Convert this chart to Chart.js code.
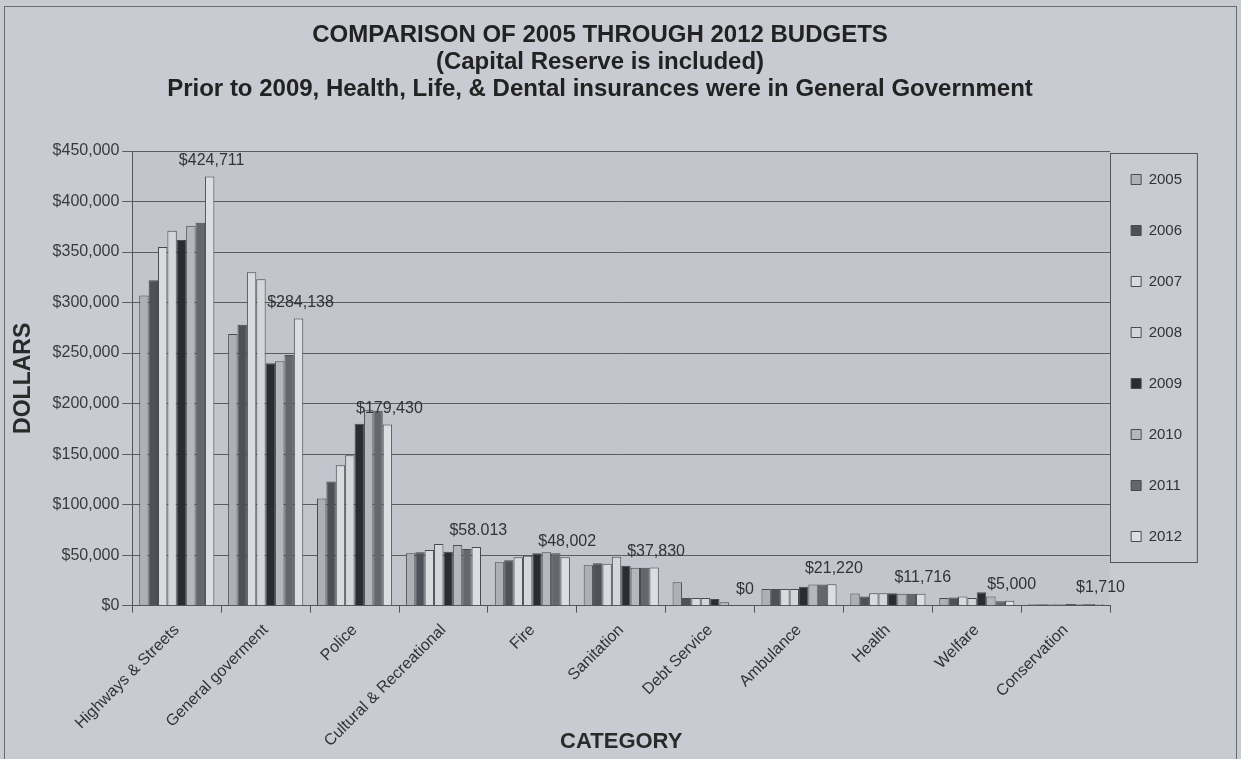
<!DOCTYPE html>
<html>
<head>
<meta charset="utf-8">
<title>Comparison of 2005 through 2012 budgets</title>
<script src="https://cdn.jsdelivr.net/npm/chart.js@4.4.1/dist/chart.umd.min.js"></script>
<style>
  html, body { margin: 0; padding: 0; background: #c8cbd2; }
  #wrap { width: 1241px; height: 759px; position: relative; }
</style>
</head>
<body>
<div id="wrap"><canvas id="budgetChart"></canvas></div>
<script>
const categories = [
  "Highways & Streets", "General goverment", "Police", "Cultural & Recreational",
  "Fire", "Sanitation", "Debt Service", "Ambulance", "Health", "Welfare", "Conservation"
];
const years = ["2005", "2006", "2007", "2008", "2009", "2010", "2011", "2012"];

const y2005 = [307000, 269000, 106000, 52000, 43000, 40000, 23100, 16500, 12000, 7600, 1500];
const y2006 = [322000, 278000, 123000, 53000, 45000, 42000, 7600, 16500, 9000, 8200, 1500];
const y2007 = [355000, 330000, 139000, 55000, 48000, 41500, 7600, 16500, 12300, 9200, 1500];
const y2008 = [371000, 323000, 149000, 61000, 49500, 48500, 7600, 16500, 12300, 7600, 1500];
const y2009 = [362000, 240000, 180000, 53500, 52000, 39500, 6600, 18800, 12300, 13200, 1600];
const y2010 = [376000, 242000, 194000, 60000, 53000, 37500, 3300, 21000, 11800, 9200, 1700];
const y2011 = [379000, 248000, 193000, 56000, 52000, 37500, 0, 21000, 11800, 4500, 1700];
const y2012 = [424711, 284138, 179430, 58013, 48002, 37830, 0, 21220, 11716, 5000, 1710];

// labels printed above the 2012 bars, as written on the original
const labels2012 = ["$424,711", "$284,138", "$179,430", "$58.013", "$48,002", "$37,830",
  "$0", "$21,220", "$11,716", "$5,000", "$1,710"];

const seriesValues = [y2005, y2006, y2007, y2008, y2009, y2010, y2011, y2012];
const fills = ["#aeb0b6", "#505158", "#d9dbdf", "#d4d6da", "#2b2c33", "#b5b7bc", "#66676d", "#dcdee2"];

Chart.defaults.font.family = "'Liberation Sans', Arial, sans-serif";
Chart.defaults.color = "#333";

const backdrop = {
  id: "backdrop",
  beforeDraw(chart) {
    const { ctx, chartArea: a } = chart;
    ctx.save();
    ctx.fillStyle = "#c8cbd2";
    ctx.fillRect(0, 0, chart.width, chart.height);
    ctx.fillStyle = "#c2c5cc";
    ctx.fillRect(a.left, a.top, a.right - a.left, a.bottom - a.top);
    ctx.strokeStyle = "#6a6c70";
    ctx.lineWidth = 1;
    ctx.strokeRect(4.5, 6.5, chart.width - 9, chart.height);
    ctx.restore();
  },
  afterDraw(chart) {
    const lg = chart.legend;
    const { ctx } = chart;
    const pad = lg.options.labels.padding;
    const step = 30 + pad;
    ctx.save();
    ctx.strokeStyle = "#555";
    ctx.lineWidth = 1;
    const top = lg.top + 2;
    const bottom = lg.top + pad + (years.length - 1) * step + 33;
    ctx.strokeRect(Math.round(lg.left) + 0.5, top + 0.5, lg.width + 5, bottom - top);
    ctx.restore();
  }
};

const barLabels = {
  id: "barLabels",
  afterDatasetsDraw(chart) {
    const { ctx } = chart;
    const meta = chart.getDatasetMeta(years.length - 1);
    ctx.save();
    ctx.font = "16px 'Liberation Sans', Arial, sans-serif";
    ctx.fillStyle = "#333";
    ctx.textAlign = "center";
    ctx.textBaseline = "bottom";
    meta.data.forEach((bar, i) => {
      ctx.fillText(labels2012[i], bar.x + 2, bar.y - 8);
    });
    ctx.restore();
  }
};

new Chart(document.getElementById("budgetChart"), {
  type: "bar",
  data: {
    labels: categories,
    datasets: years.map((yr, i) => ({
      label: yr,
      data: seriesValues[i],
      backgroundColor: fills[i],
      borderColor: "#4a4b50",
      borderWidth: 1,
      categoryPercentage: 0.845,
      barPercentage: 1.0
    }))
  },
  options: {
    responsive: true,
    maintainAspectRatio: false,
    animation: false,
    layout: { padding: { left: 8, right: 49, top: 0, bottom: 4 } },
    plugins: {
      title: {
        display: true,
        text: [
          "COMPARISON OF 2005 THROUGH 2012 BUDGETS",
          "(Capital Reserve is included)",
          "Prior to 2009, Health, Life, & Dental insurances were in General Government"
        ],
        color: "#222",
        font: { size: 24, weight: "bold", lineHeight: 1.125 },
        padding: { top: 22, bottom: 48 }
      },
      legend: {
        position: "right",
        align: "start",
        fullSize: false,
        labels: {
          boxWidth: 10,
          boxHeight: 10,
          padding: 21,
          color: "#333",
          font: { size: 15, lineHeight: 2 },
          generateLabels(chart) {
            return Chart.defaults.plugins.legend.labels.generateLabels(chart)
              .map(item => Object.assign(item, { text: [item.text] }));
          }
        }
      },
      tooltip: { enabled: false }
    },
    scales: {
      x: {
        offset: true,
        grid: { display: true, drawOnChartArea: false, tickLength: 7, color: "#555" },
        border: { display: true, color: "#555" },
        ticks: {
          autoSkip: false,
          maxRotation: 45,
          minRotation: 45,
          padding: 8,
          color: "#333",
          font: { size: 16 }
        },
        title: {
          display: true,
          text: "CATEGORY",
          color: "#2a2a2a",
          font: { size: 22, weight: "bold" },
          padding: { top: -30, bottom: 0 }
        }
      },
      y: {
        min: 0,
        max: 450000,
        grid: { color: "#5a5c60", tickLength: 10 },
        border: { display: true, color: "#555" },
        ticks: {
          stepSize: 50000,
          color: "#3a3a3a",
          font: { size: 16 },
          padding: 3,
          callback: v => "$" + v.toLocaleString("en-US")
        },
        title: {
          display: true,
          text: "DOLLARS",
          color: "#2a2a2a",
          font: { size: 23, weight: "bold" },
          padding: { top: 2, bottom: 12 }
        }
      }
    }
  },
  plugins: [backdrop, barLabels]
});
</script>
</body>
</html>
